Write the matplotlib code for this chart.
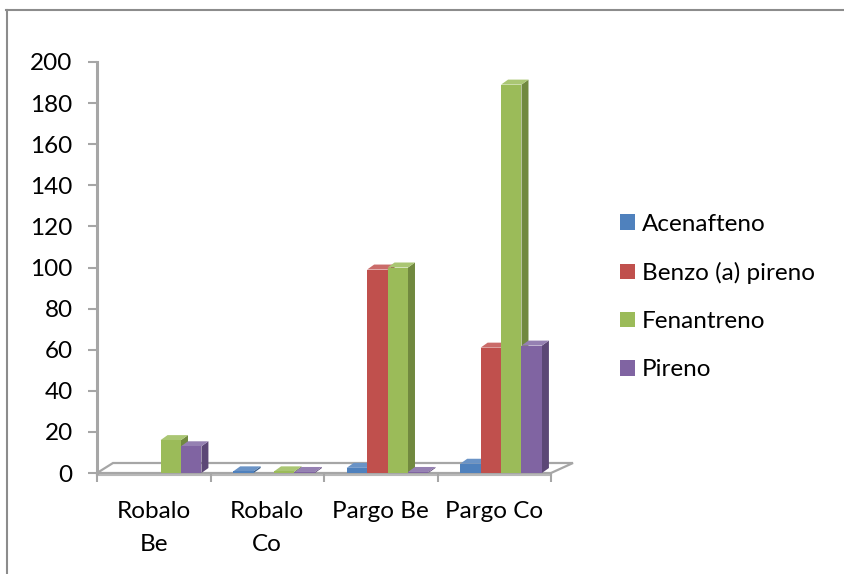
import matplotlib
matplotlib.use("Agg")
import matplotlib.pyplot as plt
from matplotlib.patches import Polygon, Patch
from matplotlib.lines import Line2D
import numpy as np

# --------------------------------------------------
# DATA
# --------------------------------------------------
categories = ["Robalo\nBe", "Robalo\nCo", "Pargo Be", "Pargo Co"]
series = ["Acenafteno", "Benzo (a) pireno", "Fenantreno", "Pireno"]

acenafteno = [0, 0.8, 2.5, 4.5]
benzo = [0, 0, 99, 61]
fenantreno = [16, 0.8, 100, 189]
pireno = [13, 0.5, 0.5, 62]
values = [acenafteno, benzo, fenantreno, pireno]

front_cols = ["#4F81BD", "#C0504D", "#9BBB59", "#8064A2"]
side_cols = ["#385D8A", "#8C3A38", "#71893F", "#5C4776"]
top_cols = ["#6A93C6", "#CA6B69", "#AAC673", "#9580B2"]

# --------------------------------------------------
# FIGURE / AXES
# --------------------------------------------------
plt.rcParams['font.family'] = ['Lato', 'DejaVu Sans']
FS = 17.5
W, H = 844, 574
fig = plt.figure(figsize=(W / 100, H / 100), dpi=100)
x0, x1, y0, y1 = 97, 551, 473, 62
ax = fig.add_axes([x0 / W, (H - y0) / H, (x1 - x0) / W, (y0 - y1) / H])
ax.set_xlim(0, 4)
ax.set_ylim(0, 200)

# pixel -> data conversion
px_x = 4 / (x1 - x0)
px_y = 200 / (y0 - y1)

# chart border (top and left only visible)
fig.add_artist(Line2D([6 / W, 1.0], [1 - 9.5 / H, 1 - 9.5 / H], color="#8c8c8c", lw=1.5))
fig.add_artist(Line2D([6.5 / W, 6.5 / W], [0, 1 - 9.5 / H], color="#8c8c8c", lw=1.5))

# --------------------------------------------------
# FLOOR
# --------------------------------------------------
floor = Polygon([(0, 0), (4, 0), (4 + 22 * px_x, 10 * px_y), (16 * px_x, 10 * px_y)],
                closed=True, facecolor="white", edgecolor="#a6a6a6", lw=1.6,
                clip_on=False, zorder=1)
ax.add_patch(floor)
ax.plot([0, 4], [-2.2 * px_y, -2.2 * px_y], color="#b8b8b8", lw=1.5, clip_on=False, zorder=1)

# --------------------------------------------------
# BARS (pseudo 3D)
# --------------------------------------------------
bw = 0.18
start = 0.2
dx = 7 * px_x
dy = 5 * px_y

for c in range(len(categories)):
    for s in range(len(series)):
        v = values[s][c]
        if v <= 0:
            continue
        xl = c + start + s * bw
        xr = xl + bw
        side = Polygon([(xr, 0), (xr + dx, dy), (xr + dx, v + dy), (xr, v)],
                       closed=True, facecolor=side_cols[s], edgecolor="none",
                       zorder=2 + c * 10 + s * 2)
        top = Polygon([(xl, v), (xr, v), (xr + dx, v + dy), (xl + dx, v + dy)],
                      closed=True, facecolor=top_cols[s], edgecolor="none",
                      zorder=2 + c * 10 + s * 2)
        ax.add_patch(side)
        ax.add_patch(top)
        ax.bar(xl, v, width=bw, align="edge", color=front_cols[s],
               linewidth=0, zorder=3 + c * 10 + s * 2)

# --------------------------------------------------
# AXES STYLE
# --------------------------------------------------
for sp in ["top", "right", "bottom"]:
    ax.spines[sp].set_visible(False)
ax.spines["left"].set_color("#a6a6a6")
ax.spines["left"].set_linewidth(2.2)

ax.set_yticks(np.arange(0, 201, 20))
ax.tick_params(axis="y", length=6.5, width=1.5, color="#a6a6a6",
               labelsize=FS, pad=11)

ax.set_xticks(np.arange(0, 5))
ax.set_xticklabels([""] * 5)
ax.tick_params(axis="x", which="major", length=6.5, width=1.5, color="#a6a6a6",
               direction="out", pad=0)
ax.set_xticks(np.arange(4) + 0.5, minor=True)
ax.set_xticklabels(categories, minor=True, fontsize=FS, linespacing=1.7)
ax.tick_params(axis="x", which="minor", length=0, pad=20)

# --------------------------------------------------
# LEGEND
# --------------------------------------------------
handles = [Patch(facecolor=c, edgecolor="none") for c in front_cols]
fig.legend(handles, series, loc="center left", bbox_to_anchor=(598 / W, 1 - 297 / H),
           frameon=False, fontsize=FS, handlelength=0.62, handleheight=0.62,
           handletextpad=0.3, labelspacing=1.12)

fig.savefig("out.png", dpi=100)
